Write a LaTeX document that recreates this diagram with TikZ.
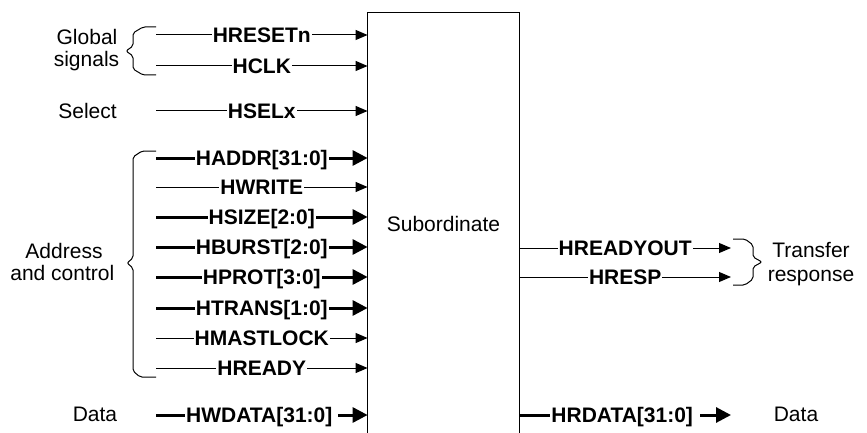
\documentclass[tikz,border=0pt]{standalone}
\usepackage{fontspec}
\setmainfont{Liberation Sans}
\usetikzlibrary{arrows.meta}
\begin{document}
\begin{tikzpicture}[x=0.5pt,y=-0.5pt,
  font=\fontsize{10.5}{12}\selectfont,
  thinsig/.style={line width=0.5pt, -{Triangle[length=6pt,width=5pt]}},
  thicksig/.style={line width=1.5pt, -{Triangle[length=7.5pt,width=7.5pt]}},
  siglabel/.style={font=\fontsize{10.5}{12}\selectfont\bfseries, fill=white, inner xsep=0.5pt, inner ysep=0pt, text height=7.5pt, text depth=0pt},
  plain/.style={anchor=base, inner sep=0pt},
  bracepath/.style={line width=0.5pt, rounded corners=1pt},
  boxline/.style={line width=0.7pt}]
\useasboundingbox (0,0) rectangle (867,433);

% Subordinate block (open at the bottom)
\node[inner sep=0pt, minimum width=75.5pt, minimum height=211pt, text height=7.5pt, text depth=0pt] (sub) at (443.5,224) {Subordinate};
\draw[boxline] (sub.south west) -- (sub.north west) -- (sub.north east) -- (sub.south east);

% Input signals
\coordinate (a1) at (156,35);
\coordinate (a2) at (156,66);
\coordinate (a3) at (156,111);
\coordinate (a4) at (156,158);
\coordinate (a5) at (156,187);
\coordinate (a6) at (156,217);
\coordinate (a7) at (156,247);
\coordinate (a8) at (156,277);
\coordinate (a9) at (156,308);
\coordinate (a10) at (156,338);
\coordinate (a11) at (156,368);
\coordinate (a12) at (156,415);

\draw[thinsig] (a1) -- (sub.west |- a1) node[siglabel, midway] (l1) {HRESETn};
\draw[thinsig] (a2) -- (sub.west |- a2) node[siglabel, midway] (l2) {HCLK};
\draw[thinsig] (a3) -- (sub.west |- a3) node[siglabel, midway] (l3) {HSELx};
\draw[thicksig] (a4) -- (sub.west |- a4) node[siglabel, midway] (l4) {HADDR[31:0]};
\draw[thinsig] (a5) -- (sub.west |- a5) node[siglabel, midway] (l5) {HWRITE};
\draw[thicksig] (a6) -- (sub.west |- a6) node[siglabel, midway] (l6) {HSIZE[2:0]};
\draw[thicksig] (a7) -- (sub.west |- a7) node[siglabel, midway] (l7) {HBURST[2:0]};
\draw[thicksig] (a8) -- (sub.west |- a8) node[siglabel, midway] (l8) {HPROT[3:0]};
\draw[thicksig] (a9) -- (sub.west |- a9) node[siglabel, midway] (l9) {HTRANS[1:0]};
\draw[thinsig] (a10) -- (sub.west |- a10) node[siglabel, midway] (l10) {HMASTLOCK};
\draw[thinsig] (a11) -- (sub.west |- a11) node[siglabel, midway] (l11) {HREADY};
\draw[thicksig] (a12) -- (sub.west |- a12) node[siglabel, midway] (l12) {HWDATA[31:0]\kern2.5pt};

% Output signals
\coordinate (r1) at (731,248);
\coordinate (r2) at (731,277);
\coordinate (r3) at (731,415);
\draw[thinsig] (sub.east |- r1) -- (r1) node[siglabel, midway] (o1) {HREADYOUT};
\draw[thinsig] (sub.east |- r2) -- (r2) node[siglabel, midway] (o2) {HRESP};
\draw[thicksig] (sub.east |- r3) -- (r3) node[siglabel, midway] (o3) {HRDATA[31:0]\kern3pt};

% Group labels
\node[plain] (tg1) at (87,44.5) {Global};
\node[plain] (tg2) at (86.5,66.5) {signals};
\node[plain] (tsel) at (87.5,118.3) {Select};
\node[plain] (ta1) at (64,258.5) {Address};
\node[plain] (ta2) at (62.3,280.5) {and control};
\node[plain] (td) at (95,421.7) {Data};
\node[plain] (tt1) at (811,257) {Transfer};
\node[plain] (tt2) at (811,281) {response};
\node[plain] (tdr) at (796,421.7) {Data};

% Braces
\draw[bracepath] (156,27) -- (143,27) -- (133,33) -- (133,46) -- (126,51) -- (133,56) -- (133,69) -- (143,75) -- (156,75);
\draw[bracepath] (156,151) -- (142,151) -- (133,157) -- (133,258) -- (127,263) -- (133,268) -- (133,371) -- (140,377) -- (156,377);
\draw[bracepath] (733,239) -- (745,239) -- (753,245) -- (753,257) -- (762,262) -- (753,267) -- (753,279) -- (745,285) -- (733,285);
\end{tikzpicture}
\end{document}
